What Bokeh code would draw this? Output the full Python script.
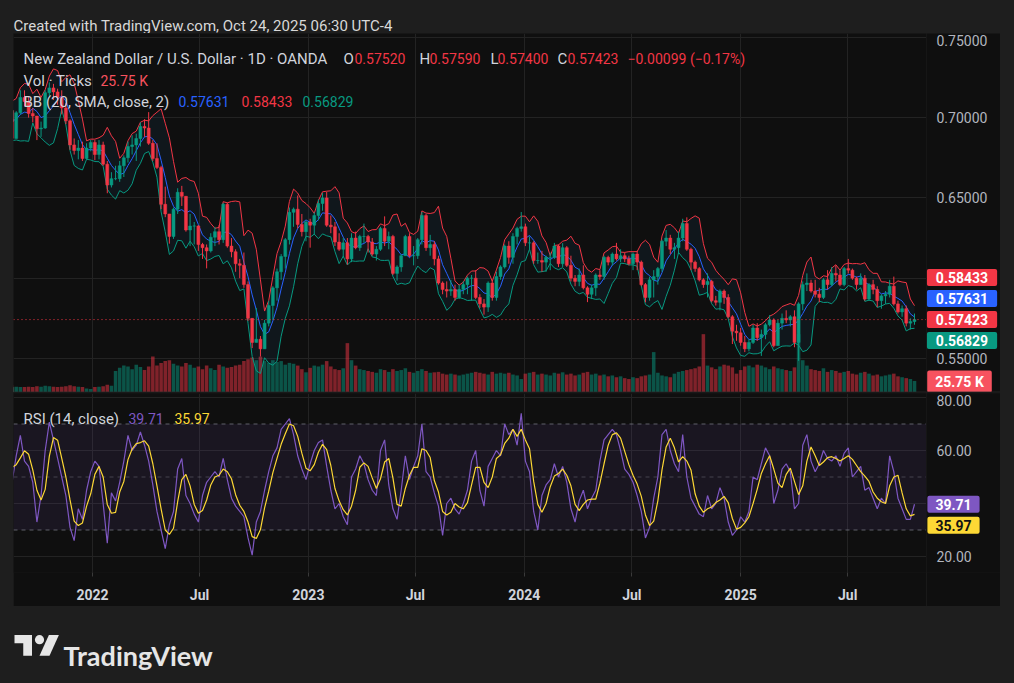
import numpy as np
import pandas as pd
from bokeh.plotting import figure
from bokeh.layouts import column, row
from bokeh.models import (Range1d, FixedTicker, Label, Span, BoxAnnotation,
                          ColumnDataSource)
from bokeh.embed import file_html
from bokeh.resources import INLINE

# ---------------- data (weekly) ----------------
week_end = pd.date_range("2021-07-23", periods=223, freq="7D")
first_open = 0.6990

closes = [
    # 2021
    0.6975, 0.6975, 0.7030, 0.7045, 0.6870, 0.7030, 0.7125, 0.7100, 0.7025, 0.7010, 0.6930, 0.6935,
    0.7155, 0.7185, 0.7160, 0.7125, 0.7060, 0.6980, 0.6830, 0.6795, 0.6810, 0.6745, 0.6810, 0.6845,
    # 2022
    0.6770, 0.6830, 0.6710, 0.6580, 0.6620, 0.6620, 0.6700, 0.6750, 0.6820, 0.6830, 0.6870, 0.6945,
    0.6935, 0.6840, 0.6745, 0.6690, 0.6460, 0.6400, 0.6260, 0.6430, 0.6535, 0.6510, 0.6300, 0.6325,
    0.6325, 0.6210, 0.6190, 0.6170, 0.6255, 0.6290, 0.6240, 0.6460, 0.6200, 0.6165, 0.6090, 0.6080,
    0.5960, 0.5750, 0.5600, 0.5620, 0.5560, 0.5720, 0.5830, 0.5940, 0.6040, 0.6135, 0.6240, 0.6410,
    0.6430, 0.6335, 0.6290, 0.6350,
    # 2023
    0.6330, 0.6390, 0.6465, 0.6500, 0.6330, 0.6320, 0.6225, 0.6180, 0.6220, 0.6120, 0.6250, 0.6190,
    0.6260, 0.6260, 0.6225, 0.6150, 0.6180, 0.6310, 0.6230, 0.6260, 0.6030, 0.6070, 0.6140, 0.6260,
    0.6140, 0.6140, 0.6240, 0.6390, 0.6190, 0.6210, 0.6120, 0.5970, 0.5930, 0.5920, 0.5930, 0.5880,
    0.5930, 0.5960, 0.6000, 0.6000, 0.5880, 0.5840, 0.5820, 0.5970, 0.5880, 0.6010, 0.6070, 0.6200,
    0.6130, 0.6260, 0.6310, 0.6320,
    # 2024
    0.6220, 0.6220, 0.6110, 0.6110, 0.6100, 0.6130, 0.6130, 0.6200, 0.6090, 0.6190, 0.6080, 0.6000,
    0.5980, 0.6020, 0.5940, 0.5900, 0.5940, 0.6020, 0.6010, 0.6130, 0.6100, 0.6150, 0.6120, 0.6140,
    0.6120, 0.6090, 0.6150, 0.6100, 0.5960, 0.5880, 0.5990, 0.6010, 0.6060, 0.6230, 0.6250, 0.6180,
    0.6190, 0.6250, 0.6340, 0.6180, 0.6100, 0.6060, 0.5990, 0.5960, 0.5980, 0.5860, 0.5850, 0.5920,
    0.5880, 0.5760, 0.5670, 0.5660,
    # 2025
    0.5600, 0.5560, 0.5600, 0.5690, 0.5630, 0.5650, 0.5710, 0.5740, 0.5580, 0.5720, 0.5750, 0.5740,
    0.5760, 0.5600, 0.5840, 0.5960, 0.5970, 0.5920, 0.5900, 0.5880, 0.5990, 0.5960, 0.6030, 0.6020,
    0.5960, 0.6060, 0.6050, 0.6000, 0.5960, 0.6000, 0.5870, 0.5960, 0.5930, 0.5860, 0.5890, 0.5900,
    0.5950, 0.5840, 0.5790, 0.5810, 0.5720, 0.5730, 0.57423,
]

highs = [
    0.7010, 0.7045, 0.7080, 0.7090, 0.7060, 0.7040, 0.7170, 0.7170, 0.7130, 0.7060, 0.7010, 0.6975,
    0.7170, 0.7219, 0.7210, 0.7180, 0.7170, 0.7090, 0.6990, 0.6870, 0.6860, 0.6850, 0.6840, 0.6860,
    0.6860, 0.6860, 0.6850, 0.6730, 0.6660, 0.6700, 0.6730, 0.6765, 0.6850, 0.6890, 0.6900, 0.6970,
    0.6990, 0.7034, 0.6860, 0.6840, 0.6700, 0.6570, 0.6400, 0.6440, 0.6560, 0.6575, 0.6500, 0.6400,
    0.6350, 0.6330, 0.6220, 0.6210, 0.6280, 0.6320, 0.6330, 0.6469, 0.6470, 0.6250, 0.6180, 0.6120,
    0.6160, 0.5980, 0.5750, 0.5815, 0.5640, 0.5740, 0.5860, 0.5950, 0.6060, 0.6150, 0.6250, 0.6440,
    0.6440, 0.6515, 0.6400, 0.6360,
    0.6370, 0.6410, 0.6490, 0.6530, 0.6538, 0.6390, 0.6350, 0.6280, 0.6250, 0.6250, 0.6280, 0.6290,
    0.6270, 0.6340, 0.6270, 0.6250, 0.6200, 0.6320, 0.6385, 0.6290, 0.6270, 0.6080, 0.6150, 0.6270,
    0.6280, 0.6200, 0.6250, 0.6412, 0.6400, 0.6270, 0.6230, 0.6140, 0.5980, 0.5980, 0.5990, 0.5960,
    0.5960, 0.5980, 0.6010, 0.6020, 0.6050, 0.5900, 0.5870, 0.5980, 0.5990, 0.6040, 0.6080, 0.6210,
    0.6230, 0.6280, 0.6320, 0.6412,
    0.6340, 0.6260, 0.6230, 0.6160, 0.6170, 0.6140, 0.6160, 0.6220, 0.6210, 0.6218, 0.6200, 0.6140,
    0.6020, 0.6060, 0.6080, 0.5950, 0.5960, 0.6030, 0.6050, 0.6140, 0.6140, 0.6160, 0.6220, 0.6180,
    0.6160, 0.6140, 0.6160, 0.6170, 0.6110, 0.5970, 0.6010, 0.6050, 0.6070, 0.6240, 0.6300, 0.6270,
    0.6220, 0.6290, 0.6370, 0.6379, 0.6190, 0.6110, 0.6070, 0.6000, 0.6030, 0.5990, 0.5890, 0.5930,
    0.5930, 0.5900, 0.5770, 0.5710,
    0.5690, 0.5640, 0.5620, 0.5710, 0.5720, 0.5680, 0.5720, 0.5770, 0.5750, 0.5740, 0.5780, 0.5800,
    0.5770, 0.5800, 0.5850, 0.5980, 0.6030, 0.5990, 0.5990, 0.5940, 0.6000, 0.6050, 0.6070, 0.6080,
    0.6050, 0.6070, 0.6120, 0.6060, 0.6010, 0.6030, 0.6020, 0.5970, 0.5990, 0.5950, 0.5900, 0.5920,
    0.5990, 0.6010, 0.5860, 0.5830, 0.5830, 0.5750, 0.5780,
]

lows = [
    0.6930, 0.6940, 0.6960, 0.6970, 0.6805, 0.6870, 0.7020, 0.7070, 0.7000, 0.6970, 0.6860, 0.6880,
    0.6930, 0.7130, 0.7110, 0.7080, 0.7020, 0.6960, 0.6800, 0.6770, 0.6740, 0.6730, 0.6740, 0.6790,
    0.6735, 0.6740, 0.6700, 0.6529, 0.6565, 0.6610, 0.6600, 0.6630, 0.6720, 0.6770, 0.6730, 0.6820,
    0.6880, 0.6830, 0.6730, 0.6680, 0.6430, 0.6380, 0.6215, 0.6245, 0.6400, 0.6450, 0.6290, 0.6200,
    0.6210, 0.6170, 0.6120, 0.6061, 0.6160, 0.6200, 0.6210, 0.6220, 0.6190, 0.6130, 0.6040, 0.6000,
    0.5940, 0.5735, 0.5565, 0.5600, 0.5512, 0.5560, 0.5700, 0.5740, 0.5860, 0.5990, 0.6060, 0.6210,
    0.6320, 0.6310, 0.6260, 0.6230,
    0.6190, 0.6270, 0.6360, 0.6420, 0.6320, 0.6280, 0.6200, 0.6170, 0.6130, 0.6085, 0.6100, 0.6180,
    0.6170, 0.6220, 0.6160, 0.6140, 0.6110, 0.6170, 0.6200, 0.6180, 0.6020, 0.5985, 0.6040, 0.6140,
    0.6130, 0.6080, 0.6120, 0.6210, 0.6170, 0.6140, 0.6080, 0.5960, 0.5900, 0.5880, 0.5890, 0.5860,
    0.5870, 0.5900, 0.5900, 0.5860, 0.5870, 0.5815, 0.5773, 0.5790, 0.5860, 0.5860, 0.5990, 0.6060,
    0.6090, 0.6090, 0.6210, 0.6290,
    0.6200, 0.6180, 0.6090, 0.6090, 0.6040, 0.6040, 0.6050, 0.6120, 0.6070, 0.6070, 0.6070, 0.5980,
    0.5950, 0.5950, 0.5930, 0.5851, 0.5870, 0.5890, 0.5990, 0.5990, 0.6080, 0.6080, 0.6110, 0.6100,
    0.6100, 0.6080, 0.6050, 0.6050, 0.5950, 0.5850, 0.5860, 0.5880, 0.5960, 0.6040, 0.6200, 0.6150,
    0.6120, 0.6150, 0.6230, 0.6170, 0.6050, 0.6040, 0.5980, 0.5940, 0.5880, 0.5850, 0.5830, 0.5800,
    0.5840, 0.5750, 0.5590, 0.5610,
    0.5580, 0.5540, 0.5545, 0.5590, 0.5610, 0.5516, 0.5620, 0.5700, 0.5570, 0.5580, 0.5680, 0.5720,
    0.5700, 0.5570, 0.5485, 0.5800, 0.5920, 0.5910, 0.5880, 0.5850, 0.5870, 0.5930, 0.5950, 0.5980,
    0.5950, 0.5950, 0.6030, 0.5990, 0.5930, 0.5960, 0.5860, 0.5860, 0.5900, 0.5820, 0.5810, 0.5840,
    0.5880, 0.5830, 0.5780, 0.5760, 0.5700, 0.5680, 0.5710,
]

# average daily tick volume of the week, thousands
volume_k = [
    12, 11, 13, 12, 16, 13, 12, 12, 13, 12, 14, 13, 15, 14, 13, 12, 13, 14, 16, 14, 13, 12, 9, 8, 12,
    13, 14, 17, 15,
    48,
    55, 60, 58, 52, 62, 57, 50, 58, 80, 60, 66,
    70, 72, 64, 60, 58, 66, 62, 55, 58, 52, 60, 54, 50, 62, 58, 55, 57,
    60, 62, 70, 74, 78, 72, 80, 70, 66, 72, 68, 70, 62, 66, 64, 60, 52, 45,
    55, 60, 58, 62, 70, 58, 52, 50, 54, 110, 72, 60, 52, 50, 48, 46, 44, 52, 50, 46, 52, 48, 50, 54,
    46, 44, 48, 52,
    48, 44, 45, 46, 42, 40, 42, 40, 38, 40, 42, 44, 46, 44, 42, 40, 46, 42, 44, 42, 44, 40, 38, 30,
    42, 44, 46, 40, 42, 40, 38, 44, 42, 45, 40, 42, 38, 40, 44, 46, 40, 42, 38, 40, 36, 38, 34, 36,
    32, 30, 34, 32, 36, 38, 40, 90, 44, 38, 36, 34, 42, 46, 48, 50, 52, 54, 58, 130, 60, 56, 52, 58,
    62, 60, 56, 42,
    50, 58, 60, 56, 62, 60, 56, 52, 58, 54, 52, 50, 48, 56, 130, 72, 60, 52, 50, 48, 54, 46, 50, 48,
    44, 46, 48, 42, 40, 44, 46, 42, 38, 40, 36, 38, 40, 42, 36, 34, 32, 30, 25.75,
]

rsi = [
    50, 48, 55, 58, 48, 58, 65.7, 56, 54, 48, 33, 43, 60, 70.7, 64, 57, 50, 43, 31, 26, 38, 34, 45, 52,
    56, 54, 40, 25, 44, 41, 48, 56, 65.7, 60, 62, 67, 62, 56, 47, 37, 30, 23, 32, 37, 53, 57, 43, 40,
    36, 33, 43, 48, 50, 52, 50, 57, 49, 42, 39, 37, 35, 27, 20.5, 33, 37, 45, 52, 58, 61, 68, 70, 72,
    66, 58, 53, 49,
    55, 60, 63, 64, 54, 45, 38, 40, 35, 32, 50, 53, 58, 55, 49, 45, 43, 60, 64, 47, 38, 34, 45, 58,
    49, 54, 58, 70, 52, 50, 44, 39, 28, 40, 42, 38, 36, 40, 45, 56, 60, 45, 39, 54, 57, 60, 58, 70,
    66, 68, 62, 74,
    56, 52, 37, 30, 43, 47, 49, 55, 50, 54, 48, 38, 33, 41, 45, 38, 42, 45, 56, 64, 66, 68, 66, 60,
    53, 51, 48, 43, 37, 27, 31, 42, 50, 66, 68, 60, 55, 52, 66, 50, 42, 39, 36, 35, 43, 38, 40, 46,
    42, 33, 28, 30,
    35, 33, 37, 50, 49, 55, 61, 58, 40, 45, 53, 55, 52, 38, 40, 62, 66, 56, 52, 55, 60, 57, 56, 58,
    54, 59, 61, 50, 52, 54, 45, 46, 42, 38, 42, 40, 58, 52, 42, 38, 34, 34, 39.71,
]

price_ticks = [0.55, 0.60, 0.65, 0.70, 0.75]
rsi_ticks = [20, 40, 60, 80]
time_ticks = {"2022-01-01": "2022", "2022-07-01": "Jul", "2023-01-01": "2023", "2023-07-01": "Jul",
              "2024-01-01": "2024", "2024-07-01": "Jul", "2025-01-01": "2025", "2025-07-01": "Jul"}

title_text = "Created with TradingView.com, Oct 24, 2025 06:30 UTC-4"
symbol_text = "New Zealand Dollar / U.S. Dollar · 1D · OANDA"
ohlc_vals = ["0.57520", "0.57590", "0.57400", "0.57423"]
change_text = "−0.00099 (−0.17%)"
vol_text = "25.75 K"
bb_vals = ["0.57631", "0.58433", "0.56829"]   # basis, upper, lower
rsi_vals = ["39.71", "35.97"]                  # rsi, rsi-ma

# ---------------- derived ----------------
n = len(closes)
assert all(len(a) == n for a in (highs, lows, volume_k, rsi))
c = np.array(closes)
o = np.array([first_open] + closes[:-1])
h = np.maximum(np.array(highs), np.maximum(o, c))
l = np.minimum(np.array(lows), np.minimum(o, c))
up = c >= o
DAY = 86_400_000
xs = ((week_end - pd.Timedelta(days=2)).asi8 // 10**6).astype(float)

UP, DN = "#089981", "#f23645"
src = ColumnDataSource(dict(
    x=xs, high=h, low=l, btop=np.maximum(o, c), bbot=np.minimum(o, c),
    color=[UP if u else DN for u in up], vol=volume_k,
))
BBW = 5
s = pd.Series(c)
mid = s.rolling(BBW).mean()
sd = s.rolling(BBW).std(ddof=0)
k0 = BBW - 1
bb = ColumnDataSource(dict(x=xs[k0:], mid=mid.values[k0:], upper=(mid + 2 * sd).values[k0:],
                           lower=(mid - 2 * sd).values[k0:]))
rsi_ma = pd.Series(rsi).rolling(3).mean()
rsrc = ColumnDataSource(dict(x=xs, rsi=rsi))
msrc = ColumnDataSource(dict(x=xs[2:], ma=rsi_ma.values[2:]))

# ---------------- pixel helpers (page coords) ----------------
T0 = pd.Timestamp("2022-01-01").value // 10**6
PX_PER_DAY = 216 / 365.25
P_TOP, P_BOT = 33, 392      # price pane, page y
R_TOP, R_BOT = 393, 572     # RSI pane, page y


def xpx(px):
    return T0 + (px - 92) / PX_PER_DAY * DAY


def ppx(py):
    return 0.55 + (358 - py) / 1606


def price_py(v):
    return 358 - (v - 0.55) * 1606


def rpx(py):
    return 80 - (py - 397) / 2.65


def rsi_py(v):
    return 397 + (80 - v) * 2.65


BG, OUTER, GRID = "#0f0f0f", "#1e1e1e", "#232323"
TXT, AX = "#d1d4dc", "#b2b5be"
FONT = "Roboto"
AXIS_X0 = 926   # page x where the price scale column starts

common = dict(toolbar_location=None, output_backend="svg", background_fill_color=BG,
              border_fill_color=BG, outline_line_color=None)

# ---------------- price pane ----------------
p = figure(width=913, height=P_BOT - P_TOP, x_range=Range1d(xpx(13), xpx(AXIS_X0)),
           y_range=Range1d(ppx(P_BOT), ppx(P_TOP)), x_axis_location=None, y_axis_location=None,
           min_border=0, **common)
tick_ms = sorted(pd.Timestamp(d).value // 10**6 for d in time_ticks)
p.xgrid.ticker = FixedTicker(ticks=tick_ms)
p.ygrid.ticker = FixedTicker(ticks=price_ticks)
p.grid.grid_line_color = GRID

p.extra_y_ranges = {"vol": Range1d(0, 800)}
p.vbar(x="x", top="vol", bottom=0, width=6 * DAY, fill_color="color", fill_alpha=0.5,
       line_color=None, y_range_name="vol", source=src)
p.varea(x="x", y1="lower", y2="upper", fill_color="#2196f3", fill_alpha=0.06, source=bb)
p.line("x", "upper", line_color=DN, line_width=1, source=bb)
p.line("x", "lower", line_color=UP, line_width=1, source=bb)
p.line("x", "mid", line_color="#2962ff", line_width=1, source=bb)
p.segment(x0="x", y0="low", x1="x", y1="high", line_color="color", line_width=1, source=src)
p.vbar(x="x", top="btop", bottom="bbot", width=5 * DAY, fill_color="color",
       line_color="color", line_width=0.5, source=src)
p.add_layout(Span(location=closes[-1], dimension="width", line_color=DN, line_dash="1 3",
                  line_width=1))


def txt(fig, x, y, text, color=TXT, size="14px", baseline="alphabetic", align="left",
        bold=False, font=FONT):
    fig.add_layout(Label(x=x, y=y, text=text, text_color=color, text_font=font,
                         text_font_size=size, text_baseline=baseline, text_align=align,
                         text_font_style="bold" if bold else "normal"))


def box(fig, cx, y, text, bg, fg="#ffffff", padx=9):
    fig.add_layout(Label(x=cx, y=y, text=text, text_align="center", text_baseline="middle",
                         text_font=FONT, text_font_size="14px", text_font_style="bold",
                         text_color=fg, background_fill_color=bg, background_fill_alpha=1.0,
                         padding=dict(left=padx, right=padx, top=3, bottom=3), border_radius=2))


# legend
y1, y2, y3 = ppx(58), ppx(80), ppx(101)
txt(p, xpx(23), y1, symbol_text, size="15px")
for lab, px_l, px_v, val in zip("OHLC", [343, 419, 490, 557], [354, 429, 497, 567], ohlc_vals):
    txt(p, xpx(px_l), y1, lab, size="15px")
    txt(p, xpx(px_v), y1, val, color=DN)
txt(p, xpx(627), y1, change_text, color=DN)
txt(p, xpx(23), y2, "Vol · Ticks", size="15px")
txt(p, xpx(100), y2, vol_text, color="#f7525f")
txt(p, xpx(23), y3, "BB (20, SMA, close, 2)", size="15px")
for px_v, val, col in zip([178, 241, 302], bb_vals, ["#2962ff", DN, UP]):
    txt(p, xpx(px_v), y3, val, color=col)

# ---------------- price scale column ----------------
pa = figure(width=74, height=P_BOT - P_TOP, x_range=Range1d(0, 74), y_range=p.y_range,
            x_axis_location=None, y_axis_location=None, min_border=0, **common)
pa.grid.visible = False
for t in price_ticks:
    if price_py(t) < P_TOP + 8:   # keep the top tick label fully inside the pane
        txt(pa, 936 - AXIS_X0, ppx(P_TOP + 1), f"{t:.5f}", color=AX, baseline="top")
    else:
        txt(pa, 936 - AXIS_X0, t, f"{t:.5f}", color=AX, baseline="middle")
step = 21 / 1606
cxp = 961.5 - AXIS_X0
box(pa, cxp, closes[-1] + 2 * step, bb_vals[1], DN)
box(pa, cxp, closes[-1] + step, bb_vals[0], "#2962ff")
box(pa, cxp, closes[-1], ohlc_vals[3], DN)
box(pa, cxp, closes[-1] - step, bb_vals[2], UP)
box(pa, 959 - AXIS_X0, ppx(381), vol_text, "#f7525f", padx=8)
for fig in (p, pa):
    fig.add_layout(Span(location=ppx(391.6), dimension="width", line_color="#2b2b2b",
                        line_width=1))

# ---------------- RSI pane ----------------
r = figure(width=913, height=214, x_range=p.x_range, y_range=Range1d(rpx(R_BOT), rpx(R_TOP)),
           y_axis_location=None, min_border_left=0, min_border_right=0, min_border_top=1,
           min_border_bottom=34, **common)
r.xaxis.ticker = FixedTicker(ticks=tick_ms)
r.xaxis.major_label_overrides = {pd.Timestamp(d).value // 10**6: lab for d, lab in time_ticks.items()}
for ax in r.xaxis:
    ax.axis_line_color = None
    ax.major_tick_line_color = "#3a3a3a"
    ax.major_tick_out = 4
    ax.major_tick_in = 0
    ax.minor_tick_line_color = None
    ax.major_label_standoff = 10
    ax.major_label_text_color = TXT
    ax.major_label_text_font = FONT
    ax.major_label_text_font_size = "14px"
    ax.major_label_text_font_style = "bold"
r.ygrid.ticker = FixedTicker(ticks=rsi_ticks)
r.grid.grid_line_color = GRID

r.add_layout(BoxAnnotation(bottom=30, top=70, fill_color="#7e57c2", fill_alpha=0.1,
                           line_color=None, level="underlay"))
for lvl, alpha in [(70, 0.75), (50, 0.45), (30, 0.75)]:
    r.add_layout(Span(location=lvl, dimension="width", line_color="#787b86", line_dash="4 4",
                      line_width=1, line_alpha=alpha, level="underlay"))
r.line("x", "rsi", line_color="#7e57c2", line_width=1.2, source=rsrc)
r.line("x", "ma", line_color="#fdd835", line_width=1.2, source=msrc)

txt(r, xpx(23), rpx(418), "RSI (14, close)", size="15px")
txt(r, xpx(128), rpx(418), rsi_vals[0], color="#7e57c2")
txt(r, xpx(174), rpx(418), rsi_vals[1], color="#fdd835")

# ---------------- RSI scale column ----------------
ra = figure(width=74, height=214, x_range=Range1d(0, 74), y_range=r.y_range,
            x_axis_location=None, y_axis_location=None, min_border_left=0, min_border_right=0,
            min_border_top=1, min_border_bottom=34, **common)
ra.grid.visible = False
for t in rsi_ticks:
    if rsi_py(t) < R_TOP + 8:
        txt(ra, 936 - AXIS_X0, rpx(R_TOP + 1), f"{t:.2f}", color=AX, baseline="top")
    else:
        txt(ra, 936 - AXIS_X0, t, f"{t:.2f}", color=AX, baseline="middle")
box(ra, 953 - AXIS_X0, rsi[-1], rsi_vals[0], "#7e57c2", padx=8)
box(ra, 953 - AXIS_X0, rsi[-1] - 21 / 2.65, rsi_vals[1], "#fdd835", fg="#131313", padx=8)

# ---------------- header / footer ----------------
hdr = figure(width=998, height=25, x_range=Range1d(0, 998), y_range=Range1d(25, 0),
             toolbar_location=None, output_backend="svg", background_fill_color=OUTER,
             border_fill_color=OUTER, outline_line_color=None, min_border=0,
             x_axis_location=None, y_axis_location=None)
hdr.grid.visible = False
hdr.add_layout(Label(x=5, y=17, text=title_text, text_baseline="alphabetic", text_font=FONT,
                     text_font_size="15px", text_color="#d8d8d8"))

ftr = figure(width=998, height=69, x_range=Range1d(0, 998), y_range=Range1d(69, 0),
             toolbar_location=None, output_backend="svg", background_fill_color=OUTER,
             border_fill_color=OUTER, outline_line_color=None, min_border=0,
             x_axis_location=None, y_axis_location=None)
ftr.grid.visible = False
LOGO = "#e6e6e6"
sx, sy, ox, oy = 1.25, 1.15, 6, 24
t_shape = [(14, 22), (7, 22), (7, 11), (0, 11), (0, 4), (14, 4)]
slash = [(28, 22), (20, 22), (27.5, 4), (35.5, 4)]
ftr.patches(xs=[[ox + a * sx for a, b in t_shape], [ox + a * sx for a, b in slash]],
            ys=[[oy + b * sy for a, b in t_shape], [oy + b * sy for a, b in slash]],
            fill_color=LOGO, line_color=None)
ftr.circle(x=[ox + 20 * sx], y=[oy + 8 * sy], radius=4 * sy, fill_color=LOGO, line_color=None)
ftr.add_layout(Label(x=55, y=49, text="TradingView", text_baseline="alphabetic", text_font="Lato",
                     text_font_style="bold", text_font_size="27px", text_color=LOGO))

layout = column(hdr, row(p, pa, margin=(0, 0, 0, 5)), row(r, ra, margin=(0, 0, 0, 5)), ftr,
                margin=(8, 0, 0, 8), styles={"background-color": OUTER})
html = file_html(layout, INLINE, title="NZD/USD")
html = html.replace("<head>", "<head><style>html,body{background-color:#1e1e1e;}</style>", 1)
open("out.html", "w").write(html)
